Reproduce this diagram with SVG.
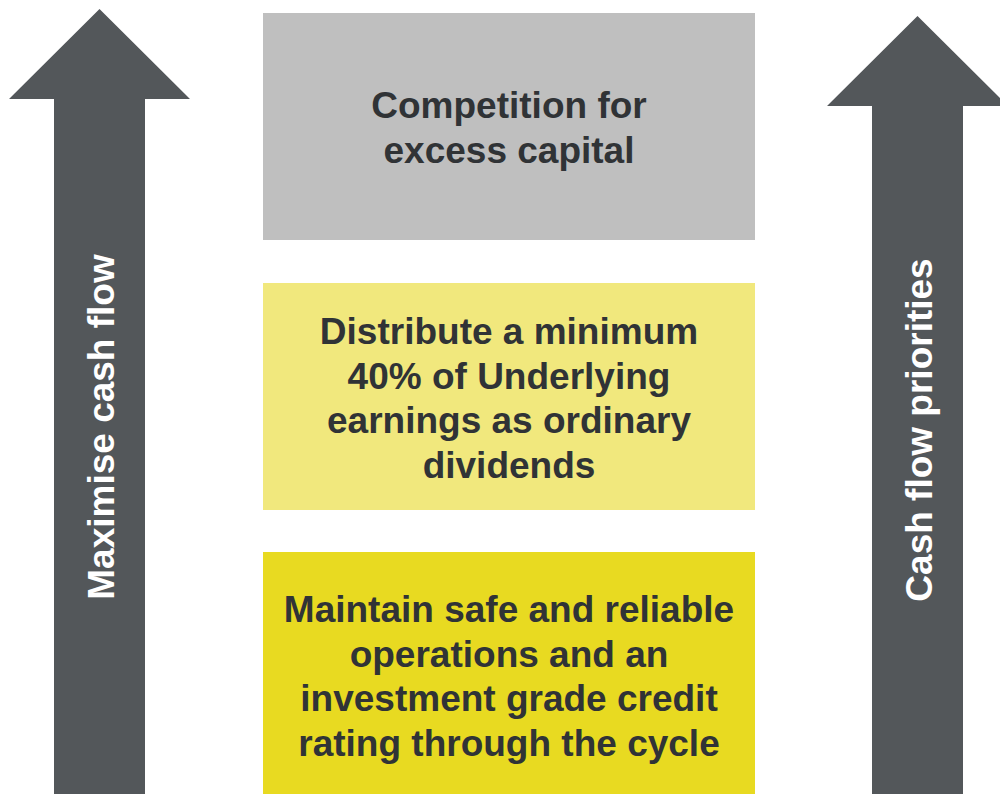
<svg xmlns="http://www.w3.org/2000/svg" width="1000" height="794" viewBox="0 0 1000 794">
<style>
.arrow{fill:#53575A}
.box-text{font-family:"Liberation Sans",Arial,sans-serif;font-weight:bold;font-size:37px;fill:#303336;text-anchor:middle}
.arrow-text{font-family:"Liberation Sans",Arial,sans-serif;font-weight:bold;font-size:37px;fill:#FFFFFF;text-anchor:middle}
</style>
<rect width="1000" height="794" fill="#FFFFFF"/>
<g id="arrow-left">
<polygon class="arrow" points="99.5,9 190,99 145,99 145,794 54,794 54,99 9,99"/>
<text class="arrow-text" transform="translate(114,427) rotate(-90)">Maximise cash flow</text>
</g>
<g id="arrow-right">
<polygon class="arrow" points="917.5,16 1008,106 963,106 963,794 872,794 872,106 827,106"/>
<text class="arrow-text" transform="translate(932,430) rotate(-90)">Cash flow priorities</text>
</g>
<g id="box-top">
<rect x="263" y="13" width="492" height="227" fill="#BFBFBF"/>
<text class="box-text" x="509" y="118">Competition for</text>
<text class="box-text" x="509" y="162.5">excess capital</text>
</g>
<g id="box-middle">
<rect x="263" y="283" width="492" height="227" fill="#F1E87D"/>
<text class="box-text" x="509" y="344">Distribute a minimum</text>
<text class="box-text" x="509" y="388.5">40% of Underlying</text>
<text class="box-text" x="509" y="433">earnings as ordinary</text>
<text class="box-text" x="509" y="477.5">dividends</text>
</g>
<g id="box-bottom">
<rect x="263" y="552" width="492" height="242" fill="#E8DA21"/>
<text class="box-text" x="509" y="622">Maintain safe and reliable</text>
<text class="box-text" x="509" y="666.5">operations and an</text>
<text class="box-text" x="509" y="711">investment grade credit</text>
<text class="box-text" x="509" y="755.5">rating through the cycle</text>
</g>
<g id="connectors"></g>
</svg>
